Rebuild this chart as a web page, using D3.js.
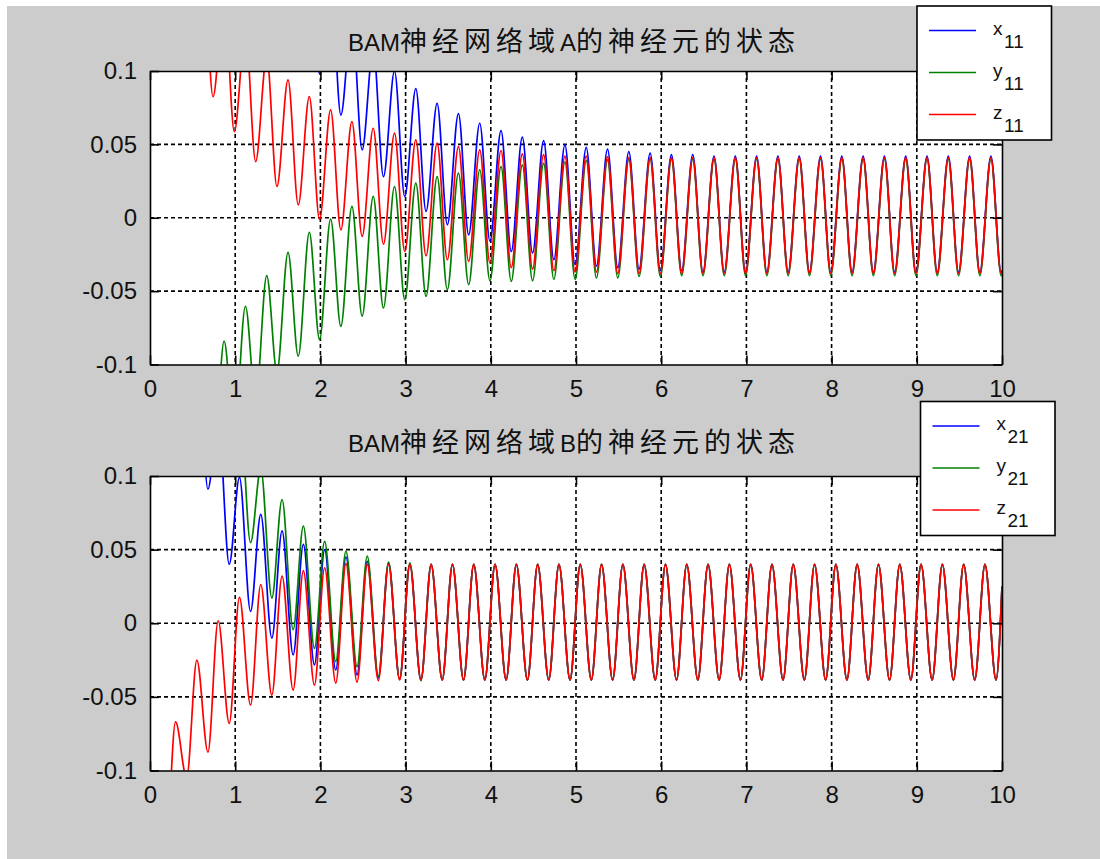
<!DOCTYPE html>
<html>
<head>
<meta charset="utf-8">
<script src="https://cdn.jsdelivr.net/npm/d3@7"></script>
<style>
body { margin: 0; background: #fff; }
svg { display: block; }
</style>
</head>
<body>
<svg id="chart" width="1100" height="859"></svg>
<script>
var xTicks = [0, 1, 2, 3, 4, 5, 6, 7, 8, 9, 10];
var yTicks = [-0.1, -0.05, 0, 0.05, 0.1];
var yTickLabels = ['-0.1', '-0.05', '0', '0.05', '0.1'];

// times of the turning points (peak, trough, ...) in domain A
var timesA = [0,
    0.12, 0.24, 0.37, 0.49, 0.62, 0.74, 0.87, 0.99,
    1.12, 1.24, 1.37, 1.49, 1.62, 1.74, 1.87, 1.99,
    2.12, 2.24, 2.37, 2.49, 2.62, 2.74, 2.87, 2.99,
    3.12, 3.24, 3.37, 3.49, 3.62, 3.74, 3.87, 3.99,
    4.12, 4.24, 4.37, 4.49, 4.62, 4.74, 4.87, 4.99,
    5.12, 5.24, 5.37, 5.49, 5.62, 5.74, 5.87, 5.99,
    6.12, 6.24, 6.37, 6.49, 6.62, 6.74, 6.87, 6.99,
    7.12, 7.24, 7.37, 7.49, 7.62, 7.74, 7.87, 7.99,
    8.12, 8.24, 8.37, 8.49, 8.62, 8.74, 8.87, 8.99,
    9.12, 9.24, 9.37, 9.49, 9.62, 9.74, 9.87, 9.99,
    10];

var x11 = [0.3,
    0.45, 0.37, 0.41, 0.33, 0.37, 0.29, 0.33, 0.245,
    0.29, 0.2, 0.26, 0.165, 0.225, 0.13, 0.194, 0.098,
    0.164, 0.07, 0.137, 0.0463, 0.116, 0.028, 0.1, 0.0145,
    0.088, 0.0043, 0.078, -0.0048, 0.071, -0.0116, 0.0644, -0.016,
    0.0594, -0.023, 0.0549, -0.024, 0.0526, -0.0286, 0.0497, -0.032,
    0.048, -0.033, 0.0467, -0.034, 0.045, -0.035, 0.044, -0.036,
    0.043, -0.036, 0.043, -0.037, 0.042, -0.037, 0.042, -0.037,
    0.042, -0.037, 0.042, -0.037, 0.042, -0.037, 0.042, -0.037,
    0.042, -0.037, 0.042, -0.037, 0.042, -0.037, 0.042, -0.037,
    0.042, -0.037, 0.042, -0.037, 0.042, -0.037, 0.042, -0.037,
    -0.036];

var y11 = [-0.2,
    -0.19, -0.24, -0.15, -0.21, -0.115, -0.175, -0.0841, -0.148,
    -0.0603, -0.125, -0.0395, -0.105, -0.0236, -0.0943, -0.01, -0.083,
    -0.0009, -0.074, 0.0077, -0.067, 0.0145, -0.0615, 0.0213, -0.0558,
    0.0236, -0.0535, 0.028, -0.049, 0.0304, -0.0456, 0.0327, -0.043,
    0.0349, -0.0433, 0.036, -0.043, 0.037, -0.042, 0.038, -0.042,
    0.039, -0.041, 0.0395, -0.041, 0.04, -0.04, 0.04, -0.04,
    0.04, -0.0395, 0.04, -0.0395, 0.04, -0.0395, 0.04, -0.0395,
    0.04, -0.0395, 0.04, -0.0395, 0.04, -0.0395, 0.04, -0.0395,
    0.04, -0.0395, 0.04, -0.0395, 0.04, -0.0395, 0.04, -0.0395,
    0.04, -0.0395, 0.04, -0.0395, 0.04, -0.0395, 0.04, -0.0395,
    -0.039];

var z11 = [0.16,
    0.24, 0.145, 0.205, 0.11, 0.176, 0.0825, 0.15, 0.0587,
    0.128, 0.0383, 0.11, 0.0213, 0.094, 0.0088, 0.0825, -0.001,
    0.0735, -0.0082, 0.0655, -0.0127, 0.061, -0.018, 0.0576, -0.023,
    0.053, -0.026, 0.0508, -0.0286, 0.0485, -0.0297, 0.0463, -0.0308,
    0.0458, -0.034, 0.0435, -0.035, 0.043, -0.036, 0.042, -0.037,
    0.042, -0.037, 0.0415, -0.038, 0.041, -0.038, 0.041, -0.038,
    0.041, -0.038, 0.041, -0.038, 0.041, -0.038, 0.041, -0.038,
    0.041, -0.038, 0.041, -0.038, 0.041, -0.038, 0.041, -0.038,
    0.041, -0.038, 0.041, -0.038, 0.041, -0.038, 0.041, -0.038,
    0.041, -0.038, 0.041, -0.038, 0.041, -0.038, 0.041, -0.038,
    -0.037];

// turning points in domain B
var timesB = [0,
    0.05, 0.18, 0.3, 0.43, 0.55, 0.68, 0.8, 0.93,
    1.05, 1.18, 1.3, 1.43, 1.55, 1.68, 1.8, 1.93,
    2.05, 2.18, 2.3, 2.43, 2.55, 2.68, 2.8, 2.93,
    3.05, 3.18, 3.3, 3.43, 3.55, 3.68, 3.8, 3.93,
    4.05, 4.18, 4.3, 4.43, 4.55, 4.68, 4.8, 4.93,
    5.05, 5.18, 5.3, 5.43, 5.55, 5.68, 5.8, 5.93,
    6.05, 6.18, 6.3, 6.43, 6.55, 6.68, 6.8, 6.93,
    7.05, 7.18, 7.3, 7.43, 7.55, 7.68, 7.8, 7.93,
    8.05, 8.18, 8.3, 8.43, 8.55, 8.68, 8.8, 8.93,
    9.05, 9.18, 9.3, 9.43, 9.55, 9.68, 9.8, 9.93,
    10];

var x21 = [0.3,
    0.33, 0.24, 0.28, 0.16, 0.2, 0.091, 0.14, 0.04,
    0.099, 0.008, 0.074, -0.0101, 0.0627, -0.0215, 0.0536, -0.0283,
    0.05, -0.0317, 0.045, -0.035, 0.042, -0.037, 0.041, -0.038,
    0.04, -0.0385, 0.04, -0.0385, 0.04, -0.0385, 0.04, -0.0385,
    0.04, -0.0385, 0.04, -0.0385, 0.04, -0.0385, 0.04, -0.0385,
    0.04, -0.0385, 0.04, -0.0385, 0.04, -0.0385, 0.04, -0.0385,
    0.04, -0.0385, 0.04, -0.0385, 0.04, -0.0385, 0.04, -0.0385,
    0.04, -0.0385, 0.04, -0.0385, 0.04, -0.0385, 0.04, -0.0385,
    0.04, -0.0385, 0.04, -0.0385, 0.04, -0.0385, 0.04, -0.0385,
    0.04, -0.0385, 0.04, -0.0385, 0.04, -0.0385, 0.04, -0.0385,
    0.025];

var y21 = [0.35,
    0.38, 0.3, 0.33, 0.24, 0.28, 0.18, 0.22, 0.11,
    0.15, 0.0547, 0.105, 0.0172, 0.084, -0.0044, 0.066, -0.017,
    0.0556, -0.026, 0.049, -0.0295, 0.0456, -0.036, 0.0415, -0.038,
    0.041, -0.039, 0.04, -0.0385, 0.04, -0.0385, 0.04, -0.0385,
    0.04, -0.0385, 0.04, -0.0385, 0.04, -0.0385, 0.04, -0.0385,
    0.04, -0.0385, 0.04, -0.0385, 0.04, -0.0385, 0.04, -0.0385,
    0.04, -0.0385, 0.04, -0.0385, 0.04, -0.0385, 0.04, -0.0385,
    0.04, -0.0385, 0.04, -0.0385, 0.04, -0.0385, 0.04, -0.0385,
    0.04, -0.0385, 0.04, -0.0385, 0.04, -0.0385, 0.04, -0.0385,
    0.04, -0.0385, 0.04, -0.0385, 0.04, -0.0385, 0.04, -0.0385,
    0.025];

var z21 = [-0.14,
    -0.12, -0.16, -0.067, -0.105, -0.025, -0.0875, 0.0017, -0.068,
    0.0176, -0.0556, 0.0263, -0.0488, 0.032, -0.0454, 0.0358, -0.042,
    0.0377, -0.0406, 0.0405, -0.04, 0.04, -0.039, 0.04, -0.0385,
    0.04, -0.0385, 0.04, -0.0385, 0.04, -0.0385, 0.04, -0.0385,
    0.04, -0.0385, 0.04, -0.0385, 0.04, -0.0385, 0.04, -0.0385,
    0.04, -0.0385, 0.04, -0.0385, 0.04, -0.0385, 0.04, -0.0385,
    0.04, -0.0385, 0.04, -0.0385, 0.04, -0.0385, 0.04, -0.0385,
    0.04, -0.0385, 0.04, -0.0385, 0.04, -0.0385, 0.04, -0.0385,
    0.04, -0.0385, 0.04, -0.0385, 0.04, -0.0385, 0.04, -0.0385,
    0.04, -0.0385, 0.04, -0.0385, 0.04, -0.0385, 0.04, -0.0385,
    0.025];

var titleA = 'BAM神经网络域A的神经元的状态';
var titleB = 'BAM神经网络域B的神经元的状态';

var FONT = '"Liberation Sans", Arial, "Noto Sans CJK SC", sans-serif';
var BLUE = '#0000ff', GREEN = '#008000', RED = '#ff0000';

var svg = d3.select('#chart');

// figure background
svg.append('rect')
    .attr('x', 7).attr('y', 6)
    .attr('width', 1093).attr('height', 853)
    .attr('fill', '#cccccc');

var panels = [
    {
        id: 'A', top: 71, bottom: 364.5, title: titleA, titleY: 51,
        legendX: 917, legendY: 6,
        series: [
            { name: 'x', sub: '11', t: timesA, v: x11, color: BLUE },
            { name: 'y', sub: '11', t: timesA, v: y11, color: GREEN },
            { name: 'z', sub: '11', t: timesA, v: z11, color: RED }
        ]
    },
    {
        id: 'B', top: 476, bottom: 770.5, title: titleB, titleY: 452,
        legendX: 920.5, legendY: 401.5,
        series: [
            { name: 'x', sub: '21', t: timesB, v: x21, color: BLUE },
            { name: 'y', sub: '21', t: timesB, v: y21, color: GREEN },
            { name: 'z', sub: '21', t: timesB, v: z21, color: RED }
        ]
    }
];

var left = 150, right = 1002, tickLen = 9;

// split a title into latin / CJK runs so only the CJK glyphs get wide spacing
function titleRuns(str) {
    var runs = [];
    str.split('').forEach(function (ch) {
        var cjk = ch.charCodeAt(0) > 255;
        var last = runs[runs.length - 1];
        if (last && last.cjk === cjk) last.text += ch;
        else runs.push({ text: ch, cjk: cjk });
    });
    return runs;
}

panels.forEach(function (p) {
    var x = d3.scaleLinear().domain([0, 10]).range([left, right]);
    var y = d3.scaleLinear().domain([-0.1, 0.1]).range([p.bottom, p.top]);
    var g = svg.append('g');

    g.append('rect')
        .attr('x', left).attr('y', p.top)
        .attr('width', right - left).attr('height', p.bottom - p.top)
        .attr('fill', '#fff');

    g.append('clipPath').attr('id', 'clip' + p.id)
        .append('rect')
        .attr('x', left).attr('y', p.top)
        .attr('width', right - left).attr('height', p.bottom - p.top);

    // dotted grid
    g.selectAll('.vgrid').data(xTicks.slice(1, -1)).enter()
        .append('line')
        .attr('x1', function (d) { return x(d); })
        .attr('x2', function (d) { return x(d); })
        .attr('y1', p.top).attr('y2', p.bottom)
        .attr('stroke', '#000').attr('stroke-width', 1.6)
        .attr('stroke-dasharray', '4,3');
    g.selectAll('.hgrid').data(yTicks.slice(1, -1)).enter()
        .append('line')
        .attr('y1', function (d) { return y(d); })
        .attr('y2', function (d) { return y(d); })
        .attr('x1', left).attr('x2', right)
        .attr('stroke', '#000').attr('stroke-width', 1.6)
        .attr('stroke-dasharray', '4,3');

    var line = d3.line()
        .x(function (d) { return x(d[0]); })
        .y(function (d) { return y(d[1]); })
        .curve(d3.curveMonotoneX);

    var plot = g.append('g').attr('clip-path', 'url(#clip' + p.id + ')');
    p.series.forEach(function (s) {
        plot.append('path')
            .datum(d3.zip(s.t, s.v))
            .attr('d', line)
            .attr('fill', 'none')
            .attr('stroke', s.color)
            .attr('stroke-width', 1.7);
    });

    // axes with inward ticks
    function styleAxis(sel) {
        sel.attr('font-family', FONT).attr('font-size', 24);
        sel.selectAll('path, line').attr('stroke', '#000').attr('stroke-width', 1.6);
        sel.selectAll('text').attr('fill', '#111');
    }
    g.append('g').attr('transform', 'translate(0,' + p.bottom + ')')
        .call(d3.axisBottom(x).tickValues(xTicks).tickSize(-tickLen).tickSizeOuter(0).tickPadding(15)
            .tickFormat(d3.format('d')))
        .call(styleAxis);
    g.append('g').attr('transform', 'translate(0,' + p.top + ')')
        .call(d3.axisTop(x).tickValues(xTicks).tickSize(-tickLen).tickSizeOuter(0).tickFormat(''))
        .call(styleAxis);
    g.append('g').attr('transform', 'translate(' + left + ',0)')
        .call(d3.axisLeft(y).tickValues(yTicks).tickSize(-tickLen).tickSizeOuter(0).tickPadding(13)
            .tickFormat(function (d, i) { return yTickLabels[i]; }))
        .call(styleAxis);
    g.append('g').attr('transform', 'translate(' + right + ',0)')
        .call(d3.axisRight(y).tickValues(yTicks).tickSize(-tickLen).tickSizeOuter(0).tickFormat(''))
        .call(styleAxis);

    // title
    var title = g.append('text')
        .attr('x', 574).attr('y', p.titleY)
        .attr('text-anchor', 'middle')
        .attr('font-family', FONT)
        .attr('fill', '#111');
    title.selectAll('tspan').data(titleRuns(p.title)).enter()
        .append('tspan')
        .attr('font-size', function (d) { return d.cjk ? 27 : 24; })
        .attr('letter-spacing', function (d) { return d.cjk ? 5 : 0; })
        .text(function (d) { return d.text; });

    // legend
    var lg = g.append('g').attr('transform', 'translate(' + p.legendX + ',' + p.legendY + ')');
    lg.append('rect')
        .attr('width', 134.5).attr('height', 134)
        .attr('fill', '#fff').attr('stroke', '#000').attr('stroke-width', 1.6);
    p.series.forEach(function (s, i) {
        var ry = 24.5 + i * 42;
        lg.append('line')
            .attr('x1', 12).attr('x2', 59)
            .attr('y1', ry).attr('y2', ry)
            .attr('stroke', s.color).attr('stroke-width', 1.6);
        lg.append('text')
            .attr('x', 76).attr('y', ry + 4)
            .attr('font-family', FONT).attr('font-size', 19).attr('fill', '#111')
            .text(s.name);
        lg.append('text')
            .attr('x', 87).attr('y', ry + 17)
            .attr('font-family', FONT).attr('font-size', 19).attr('fill', '#111')
            .text(s.sub);
    });
});
</script>
</body>
</html>
